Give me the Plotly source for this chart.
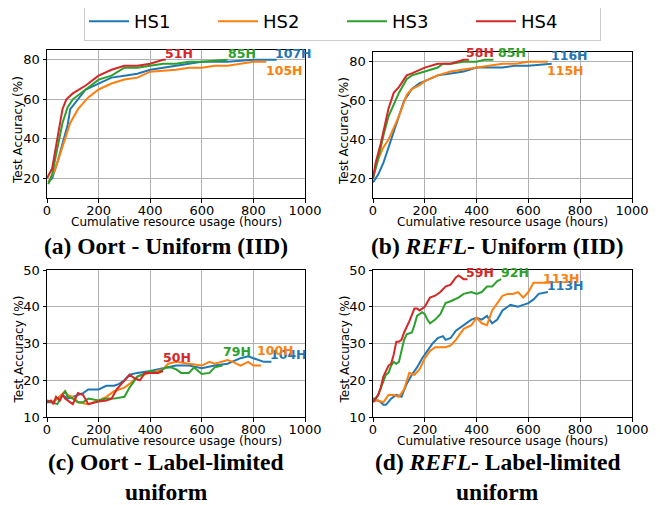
import plotly.graph_objects as go

# The page body has an 8px margin, so the figure is drawn 8px in from the window edge.
OFF = 8
W, H = 652, 497
SERIES = ["HS1", "HS2", "HS3", "HS4"]
COLORS = ["#1f77b4", "#ff7f0e", "#2ca02c", "#d62728"]

# ---------------- Panel (a): Oort - Uniform (IID) ----------------
a_hs1_x = [5, 20, 40, 60, 80, 90, 120, 150, 200, 250, 300, 350, 400, 450, 500, 600, 700, 800, 890]
a_hs1_y = [18, 20, 28, 38, 47, 55, 60, 65, 68, 71, 72, 73, 75, 76, 77, 79, 79, 80, 80]
a_hs2_x = [5, 30, 50, 70, 90, 120, 160, 200, 250, 300, 350, 400, 500, 550, 600, 650, 700, 800, 850]
a_hs2_y = [18, 24, 32, 40, 48, 55, 61, 65, 68, 70, 71, 74, 75, 76, 76, 77, 77, 79, 79]
a_hs3_x = [5, 20, 40, 60, 80, 100, 150, 200, 250, 300, 350, 400, 450, 500, 550, 600, 700]
a_hs3_y = [17, 22, 35, 48, 56, 60, 65, 70, 72, 76, 76, 77, 78, 78, 79, 79, 80]
a_hs4_x = [0, 20, 40, 50, 60, 75, 100, 150, 200, 250, 300, 350, 400, 450, 460]
a_hs4_y = [20, 25, 40, 48, 55, 60, 63, 67, 72, 75, 77, 77, 78, 80, 80]
a_labels = ["107H", "105H", "85H", "51H"]
a_lab_x = [957, 922, 755, 510]
a_lab_y = [83, 74.6, 83, 83]

# ---------------- Panel (b): REFL - Uniform (IID) ----------------
b_hs1_x = [0, 20, 40, 60, 80, 100, 120, 150, 180, 200, 250, 300, 350, 400, 450, 500, 550, 600, 690]
b_hs1_y = [18, 22, 28, 36, 45, 52, 60, 66, 69, 70, 73, 74, 75, 77, 77, 77, 78, 78, 79]
b_hs2_x = [0, 20, 40, 60, 80, 100, 130, 150, 180, 200, 250, 300, 350, 400, 450, 500, 550, 600, 675]
b_hs2_y = [21, 30, 36, 40, 46, 52, 63, 66, 68, 70, 73, 75, 76, 77, 78, 79, 79, 80, 80]
b_hs3_x = [0, 20, 40, 60, 80, 100, 130, 150, 200, 250, 270, 300, 350, 400, 430, 465]
b_hs3_y = [20, 30, 42, 52, 58, 64, 71, 73, 75, 77, 79, 79, 80, 80, 81, 81]
b_hs4_x = [0, 10, 30, 50, 60, 80, 100, 130, 150, 200, 250, 300, 350, 370]
b_hs4_y = [20, 28, 38, 50, 56, 64, 67, 73, 74, 77, 79, 79, 81, 81]
b_labels = ["116H", "115H", "85H", "58H"]
b_lab_x = [759, 742, 535, 415]
b_lab_y = [83, 75.7, 84.7, 84.7]

# ---------------- Panel (c): Oort - Label-limited uniform ----------------
c_hs1_x = [0, 20, 40, 60, 80, 100, 120, 140, 160, 200, 230, 260, 280, 300, 320, 350, 400, 430, 460, 500,
           550, 600, 650, 700, 750, 780, 800, 840, 870]
c_hs1_y = [14, 14, 15, 16, 15, 15.5, 16, 16.5, 17.5, 17.5, 18.5, 18.5, 19, 20, 21.5, 22, 22.5, 23, 23.5, 24,
           24, 23.3, 24, 24.5, 26, 26.5, 26, 25, 25]
c_hs2_x = [0, 20, 40, 60, 70, 80, 100, 120, 160, 200, 230, 260, 300, 320, 350, 400, 450, 470, 500, 550,
           600, 630, 650, 700, 720, 750, 780, 800, 830]
c_hs2_y = [14.5, 14, 15, 16.5, 17, 16, 15.5, 14, 13.5, 14.5, 15.5, 17, 18, 19, 21, 22, 23, 24.5, 25, 24.5,
           24, 25, 24.5, 25.5, 25, 24, 25, 24, 24]
c_hs3_x = [0, 20, 40, 60, 70, 80, 100, 120, 140, 160, 200, 230, 260, 300, 320, 350, 380, 400, 430, 460,
           480, 500, 520, 550, 570, 600, 630, 650, 680]
c_hs3_y = [14.5, 14, 13.5, 16, 17, 15.5, 15, 14, 14, 15, 14.5, 15, 15, 15.5, 18, 21, 22, 22.5, 22, 23.5,
           23.5, 23, 22, 22, 23.5, 21.7, 22, 23.5, 24]
c_hs4_x = [0, 15, 25, 35, 50, 60, 70, 100, 120, 140, 160, 200, 230, 250, 270, 300, 320, 340, 360, 380,
           400, 430, 450]
c_hs4_y = [14, 14.5, 13.5, 15.5, 14.5, 16, 15, 13.5, 16.5, 16, 13.5, 14.2, 14.5, 15, 17.5, 20, 21.5, 20.5,
           20, 22, 22, 22, 22.5]
c_labels = ["104H", "100H", "79H", "50H"]
c_lab_x = [935, 884, 735, 503]
c_lab_y = [27, 28, 27.7, 26.1]

# ---------------- Panel (d): REFL - Label-limited uniform ----------------
d_hs1_x = [0, 20, 30, 40, 50, 70, 90, 110, 130, 150, 170, 190, 210, 230, 250, 270, 280, 300, 320, 340,
           360, 380, 400, 420, 440, 460, 480, 500, 530, 560, 580, 600, 620, 640, 675]
d_hs1_y = [14.5, 14.5, 14, 13.3, 13.3, 15, 16, 15.5, 19, 21.5, 23.5, 26, 28, 30, 31.5, 32, 31, 31.5, 33.5,
           34.5, 35.5, 36.5, 37, 36.5, 37.5, 35.5, 36.5, 39, 40.5, 40, 40.5, 41, 42, 43.5, 44]
d_hs2_x = [0, 20, 40, 60, 80, 100, 120, 140, 160, 180, 200, 220, 240, 260, 280, 300, 320, 350, 380, 400,
           420, 440, 460, 480, 500, 520, 540, 560, 580, 600, 620, 650, 690]
d_hs2_y = [14.5, 14.5, 14, 16, 16, 15.5, 17.5, 22, 21.5, 23, 26, 28, 29, 29, 29, 29.5, 31, 34, 35, 37,
           35.5, 35, 39, 41, 43, 43.5, 43.5, 44, 42.5, 44, 46.5, 46.5, 46.5]
d_hs3_x = [0, 10, 20, 40, 50, 60, 70, 80, 90, 100, 110, 120, 130, 150, 160, 170, 190, 200, 210, 220,
           240, 260, 280, 300, 330, 350, 380, 400, 420, 440, 460, 480, 495]
d_hs3_y = [15, 15, 16, 20, 21.5, 22, 24, 25, 24.5, 25, 28, 31, 32.5, 33, 35, 37.5, 38.5, 38, 36.5, 35.5,
           36.5, 38, 41, 41.5, 42.5, 43.5, 44, 43.5, 44, 45.5, 45.5, 47, 47.5]
d_hs4_x = [0, 10, 20, 30, 40, 60, 70, 80, 90, 100, 110, 120, 140, 160, 170, 180, 200, 220, 240, 260,
           280, 300, 320, 330, 350, 365]
d_hs4_y = [14, 15, 16, 18, 21, 24, 24.5, 27, 30.5, 30.5, 31, 33, 36, 39.5, 39.5, 39, 40, 42.5, 43, 44,
           45.5, 46, 48, 48.5, 47.5, 47.5]
d_labels = ["113H", "113H", "92H", "59H"]
d_lab_x = [742, 729, 548, 415]
d_lab_y = [45.7, 47.7, 49.4, 49.4]

X_TICKS = [0, 200, 400, 600, 800, 1000]
Y_TICKS_TOP = [20, 40, 60, 80]
Y_TICKS_BOT = [10, 20, 30, 40, 50]

panels = [
    ("x", "y", [(a_hs1_x, a_hs1_y), (a_hs2_x, a_hs2_y), (a_hs3_x, a_hs3_y), (a_hs4_x, a_hs4_y)],
     a_labels, a_lab_x, a_lab_y),
    ("x2", "y2", [(b_hs1_x, b_hs1_y), (b_hs2_x, b_hs2_y), (b_hs3_x, b_hs3_y), (b_hs4_x, b_hs4_y)],
     b_labels, b_lab_x, b_lab_y),
    ("x3", "y3", [(c_hs1_x, c_hs1_y), (c_hs2_x, c_hs2_y), (c_hs3_x, c_hs3_y), (c_hs4_x, c_hs4_y)],
     c_labels, c_lab_x, c_lab_y),
    ("x4", "y4", [(d_hs1_x, d_hs1_y), (d_hs2_x, d_hs2_y), (d_hs3_x, d_hs3_y), (d_hs4_x, d_hs4_y)],
     d_labels, d_lab_x, d_lab_y),
]

fig = go.Figure()
annotations = []
for pi, (xa, ya, data, labels, lx, ly) in enumerate(panels):
    for si, (xs, ys) in enumerate(data):
        fig.add_trace(go.Scatter(
            x=xs, y=ys, mode="lines", xaxis=xa, yaxis=ya,
            name=SERIES[si], legendgroup=SERIES[si], showlegend=(pi == 0),
            line=dict(color=COLORS[si], width=2),
        ))
    for si in range(4):
        annotations.append(dict(
            x=lx[si], y=ly[si], xref=xa, yref=ya, text="<b>%s</b>" % labels[si],
            showarrow=False, font=dict(family="DejaVu Sans", size=12.5, color=COLORS[si]),
            xanchor="center", yanchor="middle",
        ))


def px(xp):
    return (xp - OFF) / W


def py(yp):
    return 1 - (yp - OFF) / H


axis_common = dict(
    showline=True, mirror=True, linecolor="black", linewidth=1,
    showgrid=True, gridcolor="#b0b0b0", gridwidth=1,
    ticks="outside", ticklen=3.5, tickcolor="black",
    tickfont=dict(family="DejaVu Sans", size=13, color="black"),
    zeroline=False, automargin=False,
)

# pixel boxes in window coordinates: (left, right, top, bottom)
boxes = [(47, 305, 50, 198), (373, 632, 52, 198), (47, 305, 270, 417), (373, 632, 270, 417)]
layout_axes = {}
for i, (l, r, t, b) in enumerate(boxes):
    sfx = "" if i == 0 else str(i + 1)
    xa_name = "x" + sfx
    ya_name = "y" + sfx
    layout_axes["xaxis" + sfx] = dict(axis_common, domain=[px(l), px(r)], range=[0, 1000],
                                     tickvals=X_TICKS, anchor=ya_name, ticklabelstandoff=-3)
    yt = Y_TICKS_TOP if i < 2 else Y_TICKS_BOT
    yr = [10, 85] if i < 2 else [10, 50]
    layout_axes["yaxis" + sfx] = dict(axis_common, domain=[py(b), py(t)], range=yr,
                                     tickvals=yt, anchor=xa_name)
    # axis titles
    annotations.append(dict(
        x=px((l + r) / 2), y=py(b + 24), xref="paper", yref="paper",
        text="Cumulative resource usage (hours)", showarrow=False,
        font=dict(family="DejaVu Sans", size=12, color="black"),
        xanchor="center", yanchor="middle"))
    annotations.append(dict(
        x=px(l - 29), y=py((t + b) / 2 + 6), xref="paper", yref="paper",
        text="Test Accuracy (%)", showarrow=False, textangle=-90,
        font=dict(family="DejaVu Sans", size=12, color="black"),
        xanchor="center", yanchor="middle"))

captions = [
    ("(a) Oort - Uniform (IID)", 166, 246),
    ("(b) <i>REFL</i>- Uniform (IID)", 497, 246),
    ("(c) Oort - Label-limited", 166, 462),
    ("uniform", 166, 492),
    ("(d) <i>REFL</i>- Label-limited", 497, 462),
    ("uniform", 497, 492),
]
for txt, cx, cy in captions:
    annotations.append(dict(
        x=px(cx), y=py(cy), xref="paper", yref="paper",
        text="<b>%s</b>" % txt, showarrow=False,
        font=dict(family="Liberation Serif", size=23.5, color="black"),
        xanchor="center", yanchor="middle"))

fig.update_layout(
    width=W, height=H,
    margin=dict(l=0, r=0, t=0, b=0, autoexpand=False),
    paper_bgcolor="white", plot_bgcolor="white",
    showlegend=True,
    legend=dict(
        orientation="h", x=px(84), xanchor="left", y=py(2), yanchor="top",
        bordercolor="#cccccc", borderwidth=1, bgcolor="white",
        font=dict(family="DejaVu Sans", size=18, color="black"),
        entrywidth=74, itemwidth=40,
    ),
    annotations=annotations,
    **layout_axes,
)

fig.write_html("out.html")
